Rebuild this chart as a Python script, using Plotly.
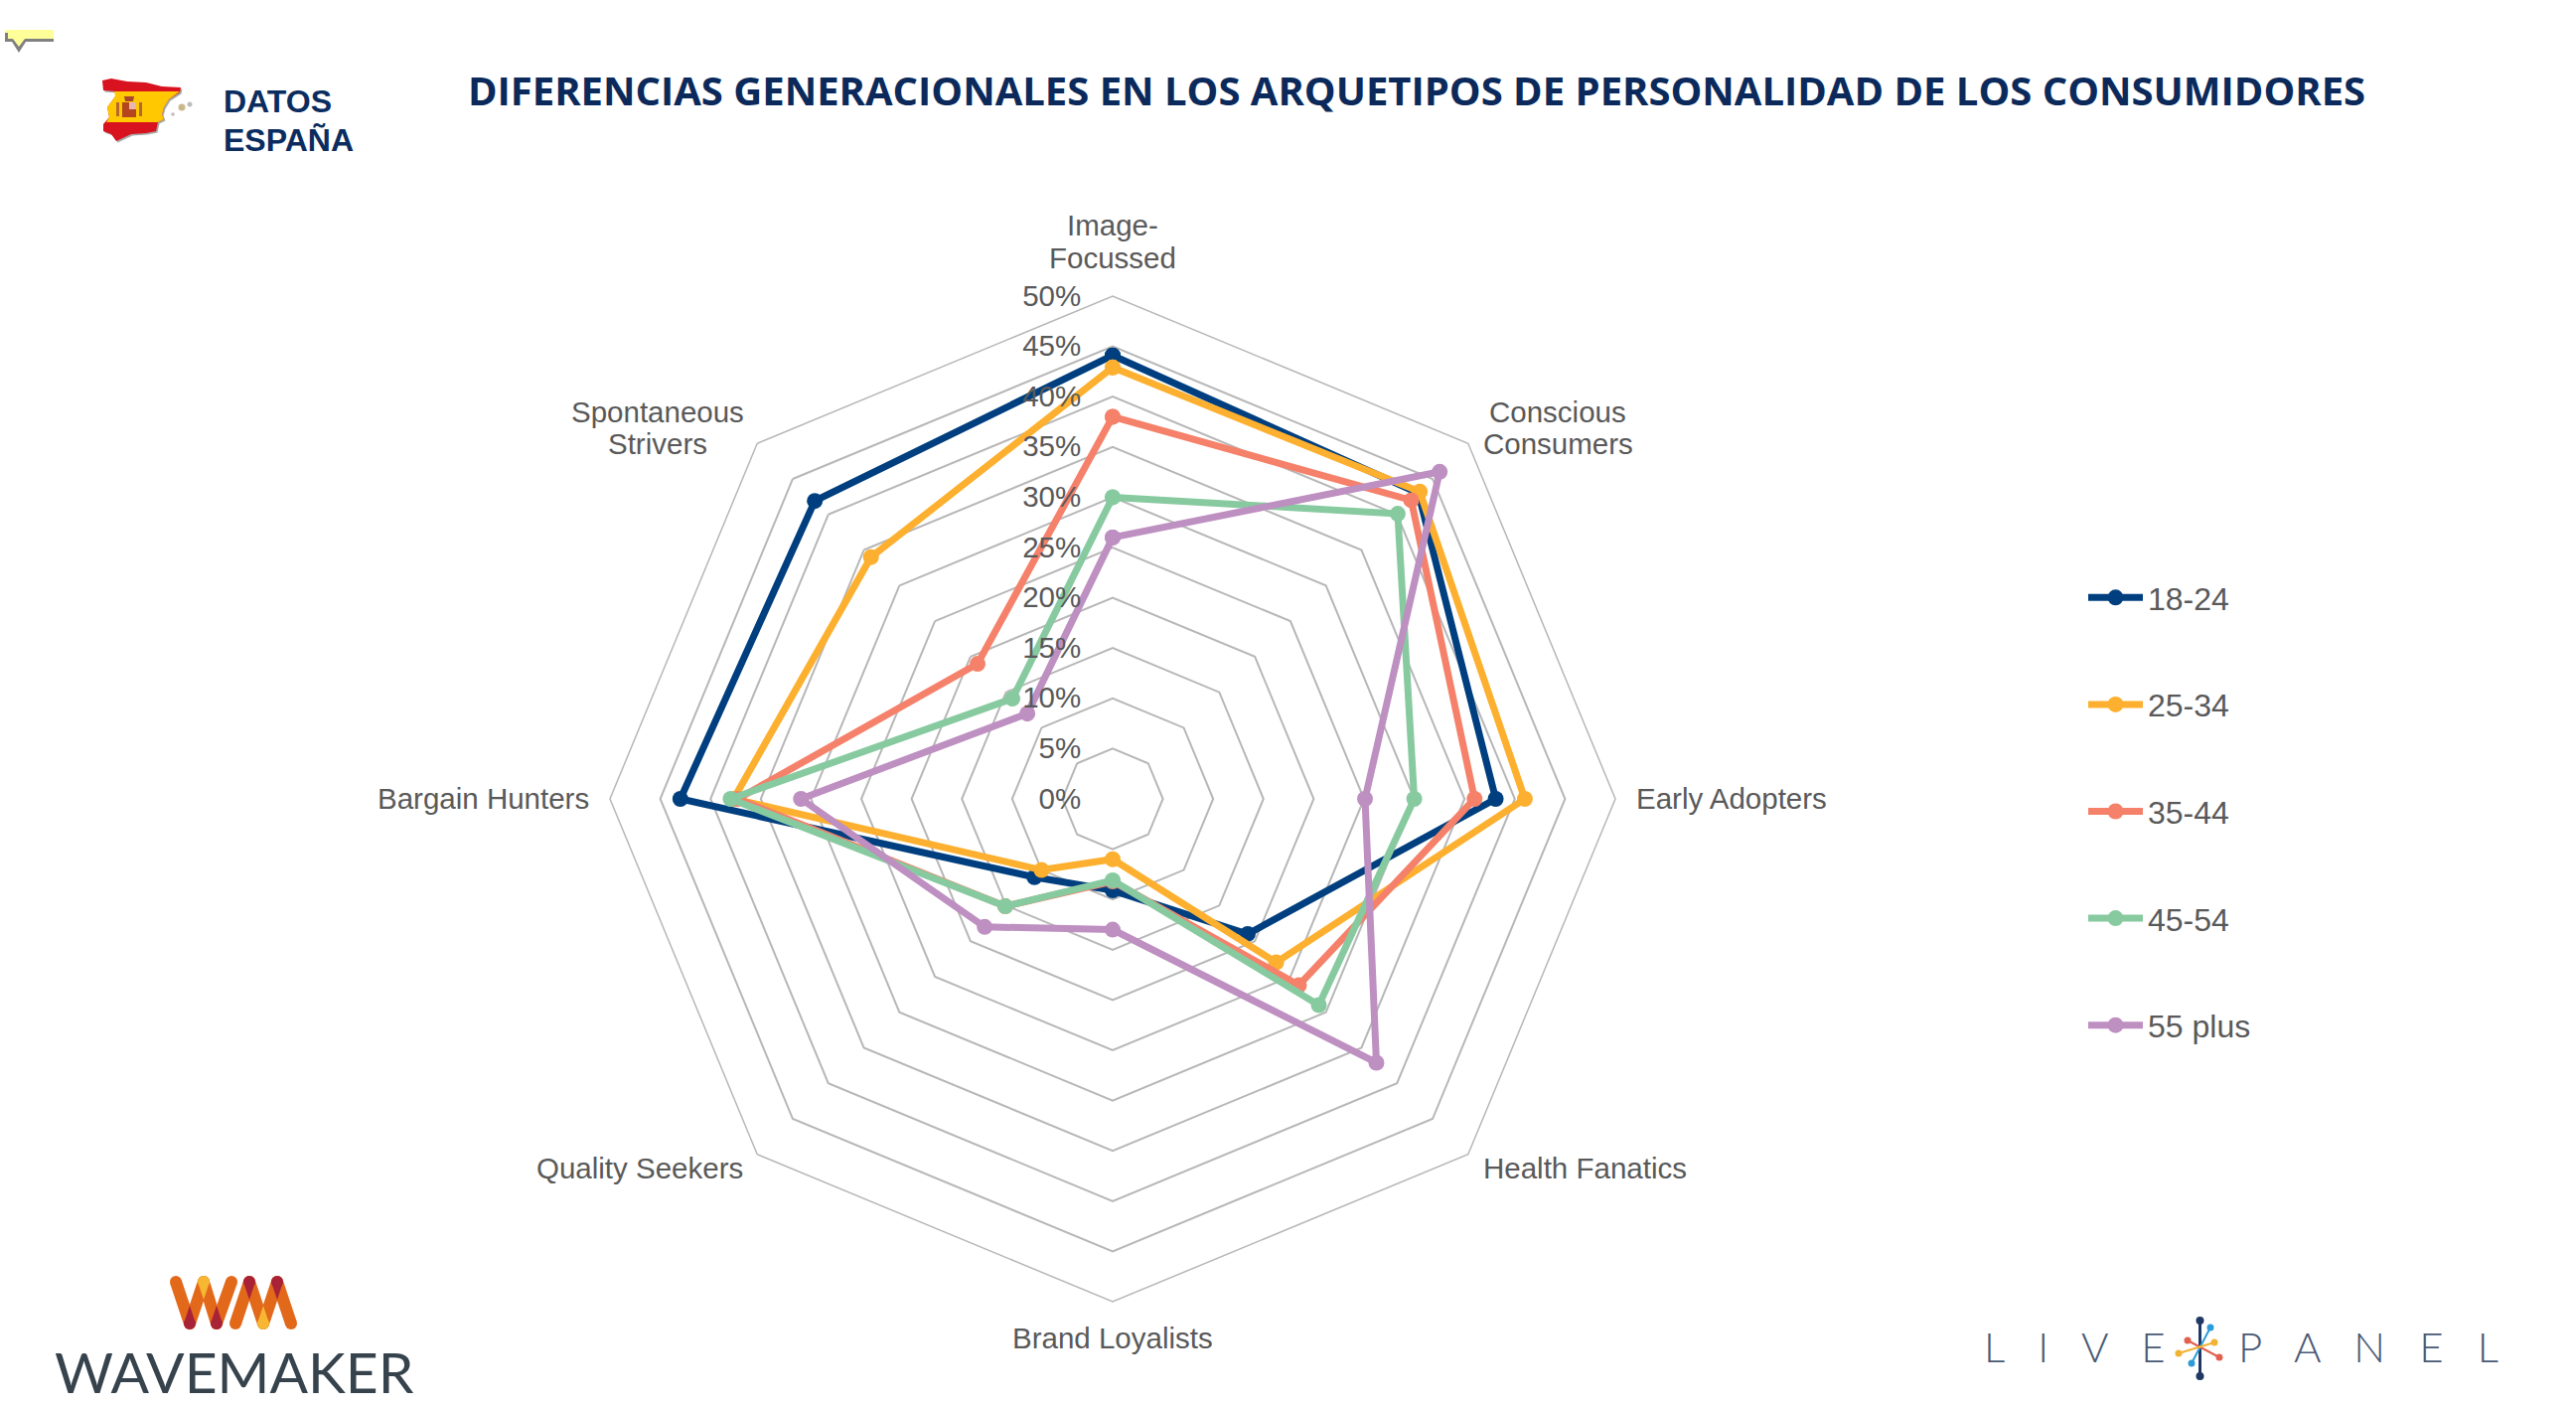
import plotly.graph_objects as go

W, H = 2593, 1416

categories = ["Image-<br>Focussed", "Conscious<br>Consumers", "Early Adopters", "Health Fanatics",
              "Brand Loyalists", "Quality Seekers", "Bargain Hunters", "Spontaneous<br>Strivers"]
age_18_24 = [44.1, 43.0, 38.1, 19.0, 9.1, 11.0, 43.0, 41.9]
age_25_34 = [42.9, 43.2, 41.0, 23.0, 6.0, 10.0, 37.7, 34.0]
age_35_44 = [38.0, 42.0, 36.0, 26.2, 8.2, 15.1, 37.3, 19.0]
age_45_54 = [30.0, 40.1, 30.0, 29.0, 8.1, 15.1, 38.0, 14.1]
age_55_plus = [26.0, 46.0, 25.1, 37.1, 13.0, 18.0, 31.0, 12.0]
series_names = ["18-24", "25-34", "35-44", "45-54", "55 plus"]
series_values = [age_18_24, age_25_34, age_35_44, age_45_54, age_55_plus]
series_colors = ["#003F7F", "#FDB02F", "#F5816A", "#88CAA0", "#BE8FC1"]
radial_ticks = [0, 5, 10, 15, 20, 25, 30, 35, 40, 45, 50]
radial_labels = [f"{t}%" for t in radial_ticks]

TXT = "#595959"
GRID = "#B7B7B7"
SANS = "Liberation Sans"

fig = go.Figure()
for name, vals, col in zip(series_names, series_values, series_colors):
    fig.add_trace(go.Scatterpolar(
        r=vals + vals[:1], theta=categories + categories[:1], name=name, mode="lines+markers",
        legendgroup=name, line=dict(color=col, width=7), marker=dict(color=col, size=16),
        cliponaxis=False))

def px(x): return x / W
def py(y): return 1 - y / H

def path(points):
    return "M" + "L".join(f"{px(x):.5f},{py(y):.5f}" for x, y in points) + "Z"

shapes = []
def poly(points, fill, line=None, width=0):
    shapes.append(dict(type="path", xref="paper", yref="paper", path=path(points), fillcolor=fill,
                       line=dict(color=line or fill, width=width), layer="above"))
def dot(x, y, r, fill):
    shapes.append(dict(type="circle", xref="paper", yref="paper", x0=px(x - r), x1=px(x + r),
                       y0=py(y + r), y1=py(y - r), fillcolor=fill, line=dict(width=0), layer="above"))
def seg(x0, y0, x1, y1, col, w):
    shapes.append(dict(type="line", xref="paper", yref="paper", x0=px(x0), y0=py(y0), x1=px(x1), y1=py(y1),
                       line=dict(color=col, width=w), layer="above"))
def bar(x0, y0, x1, y1, col, w):
    seg(x0, y0, x1, y1, col, w)
    dot(x0, y0, w / 2, col)
    dot(x1, y1, w / 2, col)

# comment callout
poly([(5, 32), (54, 32), (54, 42), (26, 42), (19, 53), (12, 42), (5, 42)], "#808080")
poly([(5, 30), (54, 30), (54, 39), (25, 39), (19, 47), (13, 39), (8, 39), (8, 33), (5, 33)], "#FFFF99")

# Spain flag map
outline = [(103, 81), (112, 79), (128, 82), (147, 83), (163, 87), (182, 88), (181, 93), (170, 100),
           (165, 108), (163, 115), (165, 120), (159, 123), (157, 132), (147, 134), (132, 135), (117, 142),
           (112, 135), (104, 132), (104, 125), (110, 118), (108, 108), (116, 97), (116, 92), (104, 91)]
poly([(x + 1.5, y + 1.5) for x, y in outline], "#A8A8A8")
poly(outline, "#D8121E")
poly([(115, 92), (181, 92), (170, 100), (165, 108), (163, 115), (165, 120), (159, 123), (107, 123),
      (110, 118), (108, 108), (116, 97)], "#FFC800")
poly([(123, 103), (137, 103), (137, 118), (123, 118)], "#B5451F")
poly([(130, 103), (137, 103), (137, 110), (130, 110)], "#E8B8B0")
poly([(125, 97), (135, 97), (134, 102), (126, 102)], "#A9472A")
poly([(117, 103), (120, 103), (120, 117), (117, 117)], "#B5672F")
poly([(140, 103), (143, 103), (143, 117), (140, 117)], "#B5672F")
dot(183, 108, 3.5, "#C9B98A")
dot(191, 105, 2.5, "#BDBDBD")
dot(174, 115, 1.8, "#BDBDBD")

# Wavemaker mark
OR, DR, YL = "#E2681A", "#A82238", "#F7B733"
TOP, BOT = 1290, 1332
for (top, bot) in [(177, 191), (205, 191), (205, 218), (233, 218), (251, 237), (251, 265), (279, 265), (279, 293)]:
    bar(top, TOP, bot, BOT, OR, 12)
for x, col in [(191, DR), (218, DR), (265, YL)]:
    poly([(x - 6, BOT), (x, BOT - 18), (x + 6, BOT)], col)
    dot(x, BOT, 6, col)
for x, col in [(205, YL), (251, DR), (279, DR)]:
    poly([(x - 6, TOP), (x, TOP + 18), (x + 6, TOP)], col)
    dot(x, TOP, 6, col)

# LivePanel star
seg(2214.5, 1329, 2214.5, 1385, "#1F3864", 3)
dot(2214.5, 1329, 4, "#1F3864"); dot(2214.5, 1385, 4, "#1F3864")
seg(2225, 1336, 2206, 1372, "#2E9BD6", 2); dot(2225, 1336, 3.5, "#2E9BD6"); dot(2206, 1372, 3.5, "#2E9BD6")
seg(2202, 1349, 2234, 1366, "#E2604F", 2); dot(2202, 1349, 3.5, "#E2604F"); dot(2234, 1366, 3.5, "#E2604F")
seg(2229, 1351, 2193, 1362, "#F2B233", 2); dot(2229, 1351, 3.5, "#F2B233"); dot(2193, 1362, 3.5, "#F2B233")

def note(text, x, y, size, color, family=SANS, anchor="left", weight=None):
    f = dict(family=family, size=size, color=color)
    if weight: f["weight"] = weight
    return dict(text=text, x=px(x), y=py(y), xref="paper", yref="paper", xanchor=anchor, yanchor="middle",
                showarrow=False, font=f, borderpad=0, borderwidth=0)

NB = "\u00a0" * 3
annotations = [
    note("DIFERENCIAS GENERACIONALES EN LOS ARQUETIPOS DE PERSONALIDAD DE LOS CONSUMIDORES", 1426, 91, 40,
         "#0B2A5B", "Open Sans", "center", 700),
    note("DATOS", 225, 102, 32, "#0B2C5F", SANS, "left", 700),
    note("ESPAÑA", 225, 141, 32, "#0B2C5F", SANS, "left", 700),
    note("WAVEMAKER", 235.5, 1380, 57, "#36434D", "Lato", "center"),
    note(NB.join("LIVE"), 1997, 1355, 42, "#4A5A75", "Lato", "left", 300),
    note(NB.join("PANEL"), 2253, 1355, 42, "#4A5A75", "Lato", "left", 300),
]

# category labels, one placement per axis spoke (x, y in page pixels, anchor)
label_places = [(1120, 227, 259, "center"), (1568, 415, 447, "center"), (1647, 803, None, "left"),
                (1493, 1175, None, "left"), (1120, 1346, None, "center"), (748, 1175, None, "right"),
                (593, 803, None, "right"), (662, 415, 447, "center")]
for cat, (x, y1, y2, anc) in zip(categories, label_places):
    parts = cat.split("<br>")
    annotations.append(note(parts[0], x, y1, 29.5, TXT, SANS, anc))
    if len(parts) > 1:
        annotations.append(note(parts[1], x, y2, 29.5, TXT, SANS, anc))

R = 506
cx, cy = 1120, 804
fig.update_layout(
    width=W, height=H, margin=dict(l=0, r=0, t=0, b=0), paper_bgcolor="white", plot_bgcolor="white",
    shapes=shapes, annotations=annotations, showlegend=True,
    font=dict(family=SANS, size=30, color=TXT),
    legend=dict(x=px(2097), y=py(574), xanchor="left", yanchor="top", tracegroupgap=63, itemwidth=55,
                font=dict(family=SANS, size=32, color=TXT), bgcolor="rgba(0,0,0,0)", itemclick=False),
    polar=dict(
        domain=dict(x=[px(cx - R), px(cx + R)], y=[py(cy + R), py(cy - R)]),
        gridshape="linear", bgcolor="white",
        radialaxis=dict(range=[0, 50], tickvals=radial_ticks, ticktext=radial_labels, angle=90, tickangle=90,
                        side="counterclockwise", showline=False, ticks="outside", ticklen=21,
                        tickcolor="rgba(0,0,0,0)", gridcolor=GRID, gridwidth=1.5,
                        tickfont=dict(family=SANS, size=29.5, color=TXT)),
        angularaxis=dict(direction="clockwise", rotation=90, categoryorder="array", categoryarray=categories,
                         showgrid=False, showline=True, linecolor=GRID, linewidth=1.5, ticks="",
                         showticklabels=False),
    ),
)
fig.write_html("out.html", config=dict(displayModeBar=False),
               post_script="document.body.style.margin='0';document.documentElement.style.overflow='hidden';")
